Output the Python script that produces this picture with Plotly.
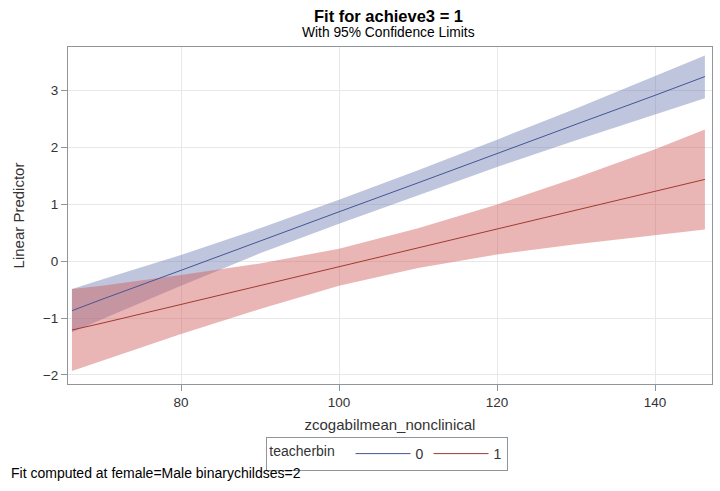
import plotly.graph_objects as go

# x positions where values were read
x_vals = [66.2, 70, 80, 90, 100, 110, 120, 130, 140, 146.3]

# teacherbin = 0
fit0 = [-0.87, -0.67, -0.16, 0.36, 0.87, 1.38, 1.90, 2.41, 2.92, 3.25]
upper0 = [-0.49, -0.32, 0.11, 0.58, 1.08, 1.60, 2.14, 2.69, 3.26, 3.62]
lower0 = [-1.25, -1.02, -0.43, 0.14, 0.66, 1.16, 1.66, 2.13, 2.59, 2.87]

# teacherbin = 1
fit1 = [-1.21, -1.09, -0.76, -0.43, -0.09, 0.24, 0.57, 0.90, 1.23, 1.44]
upper1 = [-0.49, -0.43, -0.24, -0.04, 0.22, 0.58, 1.00, 1.47, 1.97, 2.32]
lower1 = [-1.93, -1.75, -1.28, -0.84, -0.43, -0.12, 0.12, 0.30, 0.46, 0.56]

x_ticks = [80, 100, 120, 140]
y_ticks = [-2, -1, 0, 1, 2, 3]

FONT = "Liberation Sans, Arial, sans-serif"
BLUE_LINE = "#445694"
BLUE_FILL = "rgba(111,126,179,0.45)"
RED_LINE = "#A23A2E"
RED_FILL = "rgba(208,91,91,0.45)"
AXIS_GRAY = "#8E959B"
TXT = "#333333"

fig = go.Figure()

fig.add_trace(go.Scatter(x=x_vals, y=lower0, mode="lines", line=dict(width=0, color=BLUE_FILL),
                         showlegend=False, hoverinfo="skip"))
fig.add_trace(go.Scatter(x=x_vals, y=upper0, mode="lines", line=dict(width=0, color=BLUE_FILL),
                         fill="tonexty", fillcolor=BLUE_FILL, showlegend=False, hoverinfo="skip"))
fig.add_trace(go.Scatter(x=x_vals, y=lower1, mode="lines", line=dict(width=0, color=RED_FILL),
                         showlegend=False, hoverinfo="skip"))
fig.add_trace(go.Scatter(x=x_vals, y=upper1, mode="lines", line=dict(width=0, color=RED_FILL),
                         fill="tonexty", fillcolor=RED_FILL, showlegend=False, hoverinfo="skip"))

fig.add_trace(go.Scatter(x=x_vals, y=fit0, mode="lines", name="0",
                         line=dict(color=BLUE_LINE, width=1)))
fig.add_trace(go.Scatter(x=x_vals, y=fit1, mode="lines", name="1",
                         line=dict(color=RED_LINE, width=1)))

axis_common = dict(
    showgrid=True, gridcolor="#E8E8E8", gridwidth=1,
    zeroline=False, showline=True, linecolor=AXIS_GRAY, linewidth=1, mirror=True,
    ticks="outside", ticklen=6, tickcolor=AXIS_GRAY, automargin=False,
    tickfont=dict(family=FONT, size=13.5, color=TXT),
)

fig.update_layout(
    width=720, height=491,
    margin=dict(l=68, r=8, t=47, b=107),
    paper_bgcolor="white", plot_bgcolor="white",
    font=dict(family=FONT, color=TXT),
    xaxis=dict(range=[65.7, 147.2], tickvals=x_ticks,
               title=dict(text="zcogabilmean_nonclinical", font=dict(family=FONT, size=15, color=TXT), standoff=10),
               **axis_common),
    yaxis=dict(range=[-2.16, 3.77], tickvals=y_ticks,
               title=dict(text="Linear Predictor", font=dict(family=FONT, size=15, color=TXT), standoff=14),
               **axis_common),
    legend=dict(orientation="h", x=0.538, xanchor="center", xref="container",
                y=1 - 454 / 491, yanchor="middle", yref="container",
                bordercolor=AXIS_GRAY, borderwidth=1, traceorder="normal",
                title=dict(text="teacherbin  ", side="left", font=dict(family=FONT, size=14, color=TXT)),
                font=dict(family=FONT, size=14, color=TXT),
                itemwidth=55, tracegroupgap=0),
    annotations=[
        dict(text="<b>Fit for achieve3 = 1</b>", xref="paper", yref="paper", x=0.497, y=1.092,
             xanchor="center", yanchor="middle", showarrow=False,
             font=dict(family=FONT, size=16.5, color="#000000")),
        dict(text="With 95% Confidence Limits", xref="paper", yref="paper", x=0.497, y=1.042,
             xanchor="center", yanchor="middle", showarrow=False,
             font=dict(family=FONT, size=13.8, color="#000000")),
        dict(text="Fit computed at female=Male binarychildses=2", xref="paper", yref="paper",
             x=-0.091, y=-0.263, xanchor="left", yanchor="middle", showarrow=False,
             font=dict(family=FONT, size=14, color="#000000")),
    ],
)

fig.write_html("out.html", config={"displayModeBar": False},
               post_script="document.body.style.margin='0';document.body.style.padding='0';")
